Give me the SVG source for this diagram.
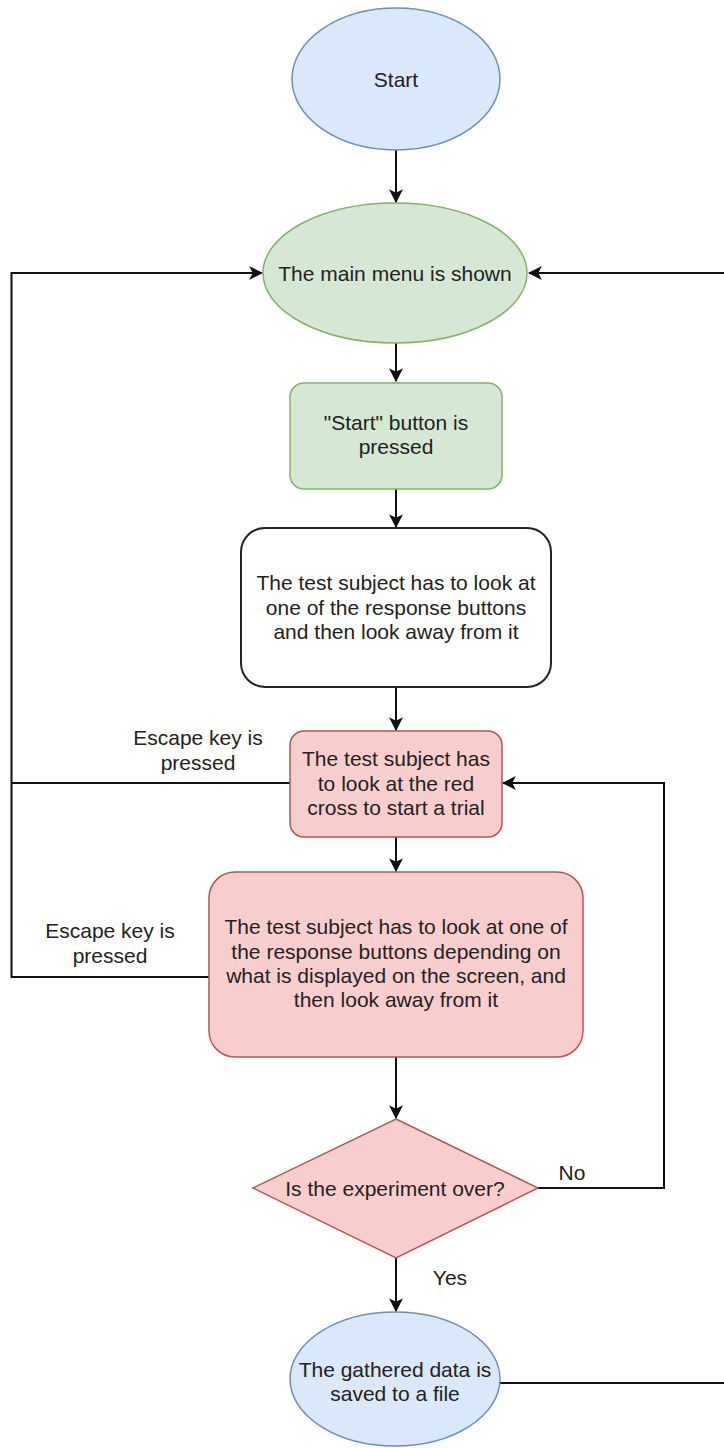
<svg xmlns="http://www.w3.org/2000/svg" width="724" height="1448" viewBox="0 0 724 1448">
<style>
text{font-family:"Liberation Sans",Arial,sans-serif;font-size:21px;fill:#222;text-anchor:middle;dominant-baseline:central}
.blue{fill:#dae8fc;stroke:#6c8ebf;stroke-width:1.5}
.green{fill:#d5e8d4;stroke:#82b366;stroke-width:1.5}
.red{fill:#f8cecc;stroke:#b85450;stroke-width:1.5}
.white{fill:#fff;stroke:#222;stroke-width:2}
.edge{fill:none;stroke:#111;stroke-width:2}
</style>
<defs>
<marker id="arr" markerUnits="userSpaceOnUse" markerWidth="14" markerHeight="14" refX="11" refY="6" orient="auto" viewBox="0 0 12 12">
<path d="M0,0 L12,6 L0,12 L3,6 Z" fill="#111"/>
</marker>
</defs>
<rect width="724" height="1448" fill="#fff"/>
<g id="connectors">
<path class="edge" d="M396,150 L396,202" marker-end="url(#arr)"/>
<path class="edge" d="M396,343 L396,381" marker-end="url(#arr)"/>
<path class="edge" d="M396,489 L396,527" marker-end="url(#arr)"/>
<path class="edge" d="M396,687 L396,730" marker-end="url(#arr)"/>
<path class="edge" d="M396,837 L396,871" marker-end="url(#arr)"/>
<path class="edge" d="M396,1057 L396,1118" marker-end="url(#arr)"/>
<path class="edge" d="M396,1258 L396,1311" marker-end="url(#arr)"/>
<path class="edge" d="M290,783 L11.5,783"/>
<path class="edge" d="M209,977 L11.5,977 L11.5,273 L262,273" marker-end="url(#arr)"/>
<path class="edge" d="M538,1188 L664,1188 L664,783 L503,783" marker-end="url(#arr)"/>
<path class="edge" d="M500,1383 L725,1383 L725,273 L529,273" marker-end="url(#arr)"/>
<text x="198" y="737">Escape key is</text>
<text x="198" y="762">pressed</text>
<text x="110" y="930">Escape key is</text>
<text x="110" y="955">pressed</text>
<text x="572" y="1172">No</text>
<text x="450" y="1277">Yes</text>
</g>
<g id="start">
<ellipse class="blue" cx="396" cy="79" rx="104" ry="71"/>
<text x="396" y="79">Start</text>
</g>
<g id="main-menu">
<ellipse class="green" cx="395" cy="273" rx="132" ry="70"/>
<text x="395" y="273">The main menu is shown</text>
</g>
<g id="start-pressed">
<rect class="green" x="290" y="383" width="212" height="106" rx="14"/>
<text x="396" y="422">"Start" button is</text>
<text x="396" y="446">pressed</text>
</g>
<g id="look-response">
<rect class="white" x="241" y="528" width="310" height="159" rx="24"/>
<text x="396" y="582">The test subject has to look at</text>
<text x="396" y="607">one of the response buttons</text>
<text x="396" y="631">and then look away from it</text>
</g>
<g id="red-cross">
<rect class="red" x="290" y="731" width="212" height="106" rx="14"/>
<text x="396" y="758">The test subject has</text>
<text x="396" y="783">to look at the red</text>
<text x="396" y="807">cross to start a trial</text>
</g>
<g id="trial">
<rect class="red" x="209" y="872" width="374" height="185" rx="26"/>
<text x="396" y="926">The test subject has to look at one of</text>
<text x="396" y="951">the response buttons depending on</text>
<text x="396" y="975">what is displayed on the screen, and</text>
<text x="396" y="999">then look away from it</text>
</g>
<g id="decision">
<polygon class="red" points="396,1119 538,1188 396,1258 253,1188"/>
<text x="395" y="1188">Is the experiment over?</text>
</g>
<g id="save">
<ellipse class="blue" cx="395" cy="1379" rx="105" ry="67"/>
<text x="395" y="1369">The gathered data is</text>
<text x="395" y="1393">saved to a file</text>
</g>
</svg>
